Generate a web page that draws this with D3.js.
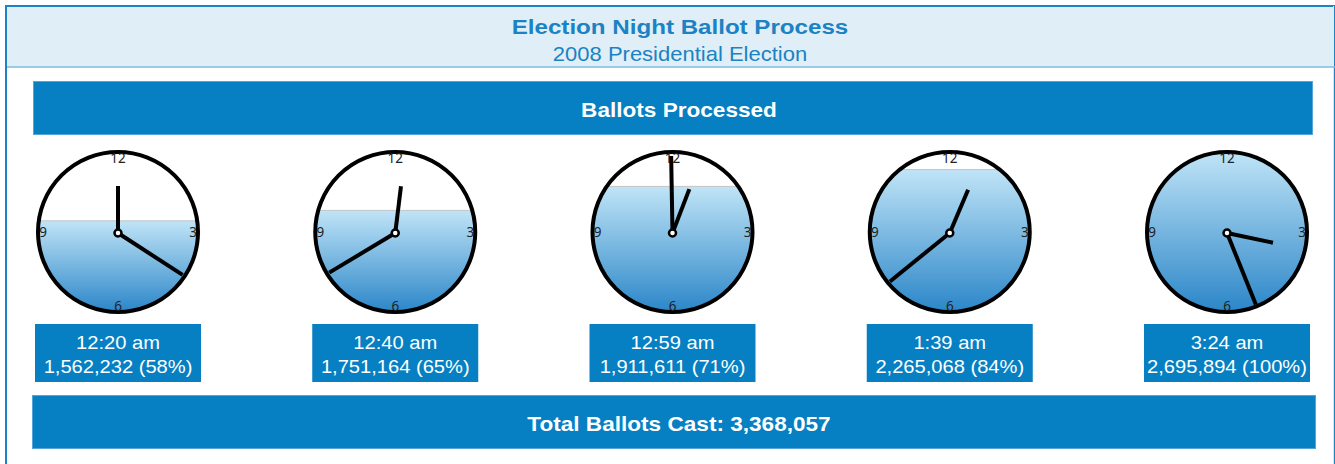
<!DOCTYPE html>
<html>
<head>
<meta charset="utf-8">
<script src="https://cdn.jsdelivr.net/npm/d3@7"></script>
<style>
  html, body { margin: 0; padding: 0; background: #ffffff; }
  svg { display: block; }
</style>
</head>
<body>
<svg id="chart" width="1335" height="464"></svg>
<script>
// ---- data ----
const title = "Election Night Ballot Process";
const subtitle = "2008 Presidential Election";
const headerLabel = "Ballots Processed";
const totalLabel = "Total Ballots Cast";
const totalBallots = 3368057;
const times = ["12:20 am", "12:40 am", "12:59 am", "1:39 am", "3:24 am"];
const ballots = [1562232, 1751164, 1911611, 2265068, 2695894];
const percents = [58, 65, 71, 84, 100];
// fill level of each clock face (share of the face height)
const fillLevels = [0.57, 0.635, 0.785, 0.89, 1.0];
// hand angles (degrees clockwise from 12)
const hourAngles = [0, 7, 21, 23, 102];
const minuteAngles = [123, 239, 359, 231, 158];
const dialNumbers = [{t: "12", a: 0}, {t: "3", a: 90}, {t: "6", a: 180}, {t: "9", a: 270}];

// ---- layout ----
const W = 1335, H = 464;
const svg = d3.select("#chart");
const blue = "#0680c2";
const fmt = d3.format(",");
const SANS = "Liberation Sans, Arial, sans-serif";

// text that is a little wider than Arial, as in the reference
function wideText(parent, x, y, size, sx, bold, fill, txt) {
  return parent.append("text")
    .attr("transform", `translate(${x},${y}) scale(${sx},1)`)
    .attr("text-anchor", "middle").attr("font-family", SANS)
    .attr("font-weight", bold ? "bold" : "normal")
    .attr("font-size", size).attr("fill", fill).text(txt);
}

// frame
svg.append("rect").attr("x", 6).attr("y", 6).attr("width", W - 7).attr("height", H + 10)
  .attr("fill", "#fff").attr("stroke", "#1b83c6").attr("stroke-width", 2);
svg.append("line").attr("x1", W - 1.5).attr("x2", W - 1.5).attr("y1", 6).attr("y2", H)
  .attr("stroke", "#d6e6f0").attr("stroke-width", 1);
svg.append("rect").attr("x", 7).attr("y", 7).attr("width", W - 8).attr("height", 60)
  .attr("fill", "#dfeef7");
svg.append("line").attr("x1", 7).attr("x2", W).attr("y1", 67).attr("y2", 67)
  .attr("stroke", "#7fbbe3").attr("stroke-width", 1.5);

wideText(svg, 680, 34, 21, 1.15, true, "#1b82c4", title);
wideText(svg, 680, 61, 20, 1.10, false, "#1b82c4", subtitle);

// banner bars
function banner(x, y, w, h, label) {
  svg.append("rect").attr("x", x).attr("y", y).attr("width", w).attr("height", h)
    .attr("fill", blue).attr("stroke", "#55a6d8").attr("stroke-width", 1);
  wideText(svg, 679, y + h / 2 + 9, 20, 1.13, true, "#fff", label);
}
banner(33.5, 81.5, 1279, 53, headerLabel);
banner(32.5, 395.5, 1283, 53, totalLabel + ": " + fmt(totalBallots));

// scales
const x = d3.scalePoint().domain(d3.range(times.length)).range([118, 1227]);
const cy = 232, R = 80;
const levelY = d3.scaleLinear().domain([0, 1]).range([cy + R, cy - R]);
const rad = d => d * Math.PI / 180;

const defs = svg.append("defs");
const grad = defs.append("linearGradient").attr("id", "water")
  .attr("x1", 0).attr("y1", 0).attr("x2", 0).attr("y2", 1);
grad.append("stop").attr("offset", "0%").attr("stop-color", "#c0e4f7");
grad.append("stop").attr("offset", "100%").attr("stop-color", "#2b86c8");

const data = times.map((t, i) => ({i, t, b: ballots[i], p: percents[i], f: fillLevels[i],
  ha: hourAngles[i], ma: minuteAngles[i]}));

data.forEach(d => {
  defs.append("clipPath").attr("id", "clip" + d.i)
    .append("circle").attr("cx", x(d.i)).attr("cy", cy).attr("r", R);
});

const clocks = svg.selectAll("g.clock").data(data).join("g").attr("class", "clock");

clocks.append("circle").attr("cx", d => x(d.i)).attr("cy", cy).attr("r", R).attr("fill", "#fff");
clocks.append("rect")
  .attr("clip-path", d => `url(#clip${d.i})`)
  .attr("x", d => x(d.i) - R).attr("y", d => levelY(d.f))
  .attr("width", 2 * R).attr("height", d => cy + R - levelY(d.f))
  .attr("fill", "url(#water)");
clocks.filter(d => d.f < 1).append("line")
  .attr("clip-path", d => `url(#clip${d.i})`)
  .attr("x1", d => x(d.i) - R).attr("x2", d => x(d.i) + R)
  .attr("y1", d => levelY(d.f)).attr("y2", d => levelY(d.f))
  .attr("stroke", "#c4c4c4").attr("stroke-width", 1);
clocks.append("circle").attr("cx", d => x(d.i)).attr("cy", cy).attr("r", R)
  .attr("fill", "none").attr("stroke", "#000").attr("stroke-width", 4);

clocks.each(function(d) {
  const g = d3.select(this);
  g.selectAll("text.num").data(dialNumbers).join("text").attr("class", "num")
    .attr("x", n => x(d.i) + 75 * Math.sin(rad(n.a)))
    .attr("y", n => cy - 74 * Math.cos(rad(n.a)))
    .attr("dy", "0.36em")
    .attr("text-anchor", "middle")
    .attr("font-family", "Noto Sans, DejaVu Sans, sans-serif")
    .attr("font-size", 13.5).attr("fill", "#222").text(n => n.t);
});

function hand(sel, angleKey, len) {
  sel.append("line")
    .attr("x1", d => x(d.i)).attr("y1", cy + 1)
    .attr("x2", d => x(d.i) + len * Math.sin(rad(d[angleKey])))
    .attr("y2", d => cy + 1 - len * Math.cos(rad(d[angleKey])))
    .attr("stroke", "#000").attr("stroke-width", 4);
}
hand(clocks, "ha", 47);
hand(clocks, "ma", 77);
clocks.append("circle").attr("cx", d => x(d.i)).attr("cy", cy + 1).attr("r", 3.5)
  .attr("fill", "#fff").attr("stroke", "#000").attr("stroke-width", 2.5);

// label boxes
const bw = 166, bh = 58, by = 324;
clocks.append("rect").attr("x", d => x(d.i) - bw / 2).attr("y", by)
  .attr("width", bw).attr("height", bh).attr("fill", blue);
clocks.each(function(d) {
  const g = d3.select(this);
  wideText(g, x(d.i), by + 24.5, 17.5, 1.15, false, "#fff", d.t);
  wideText(g, x(d.i), by + 49, 17.5, 1.15, false, "#fff", `${fmt(d.b)} (${d.p}%)`);
});
</script>
</body>
</html>
